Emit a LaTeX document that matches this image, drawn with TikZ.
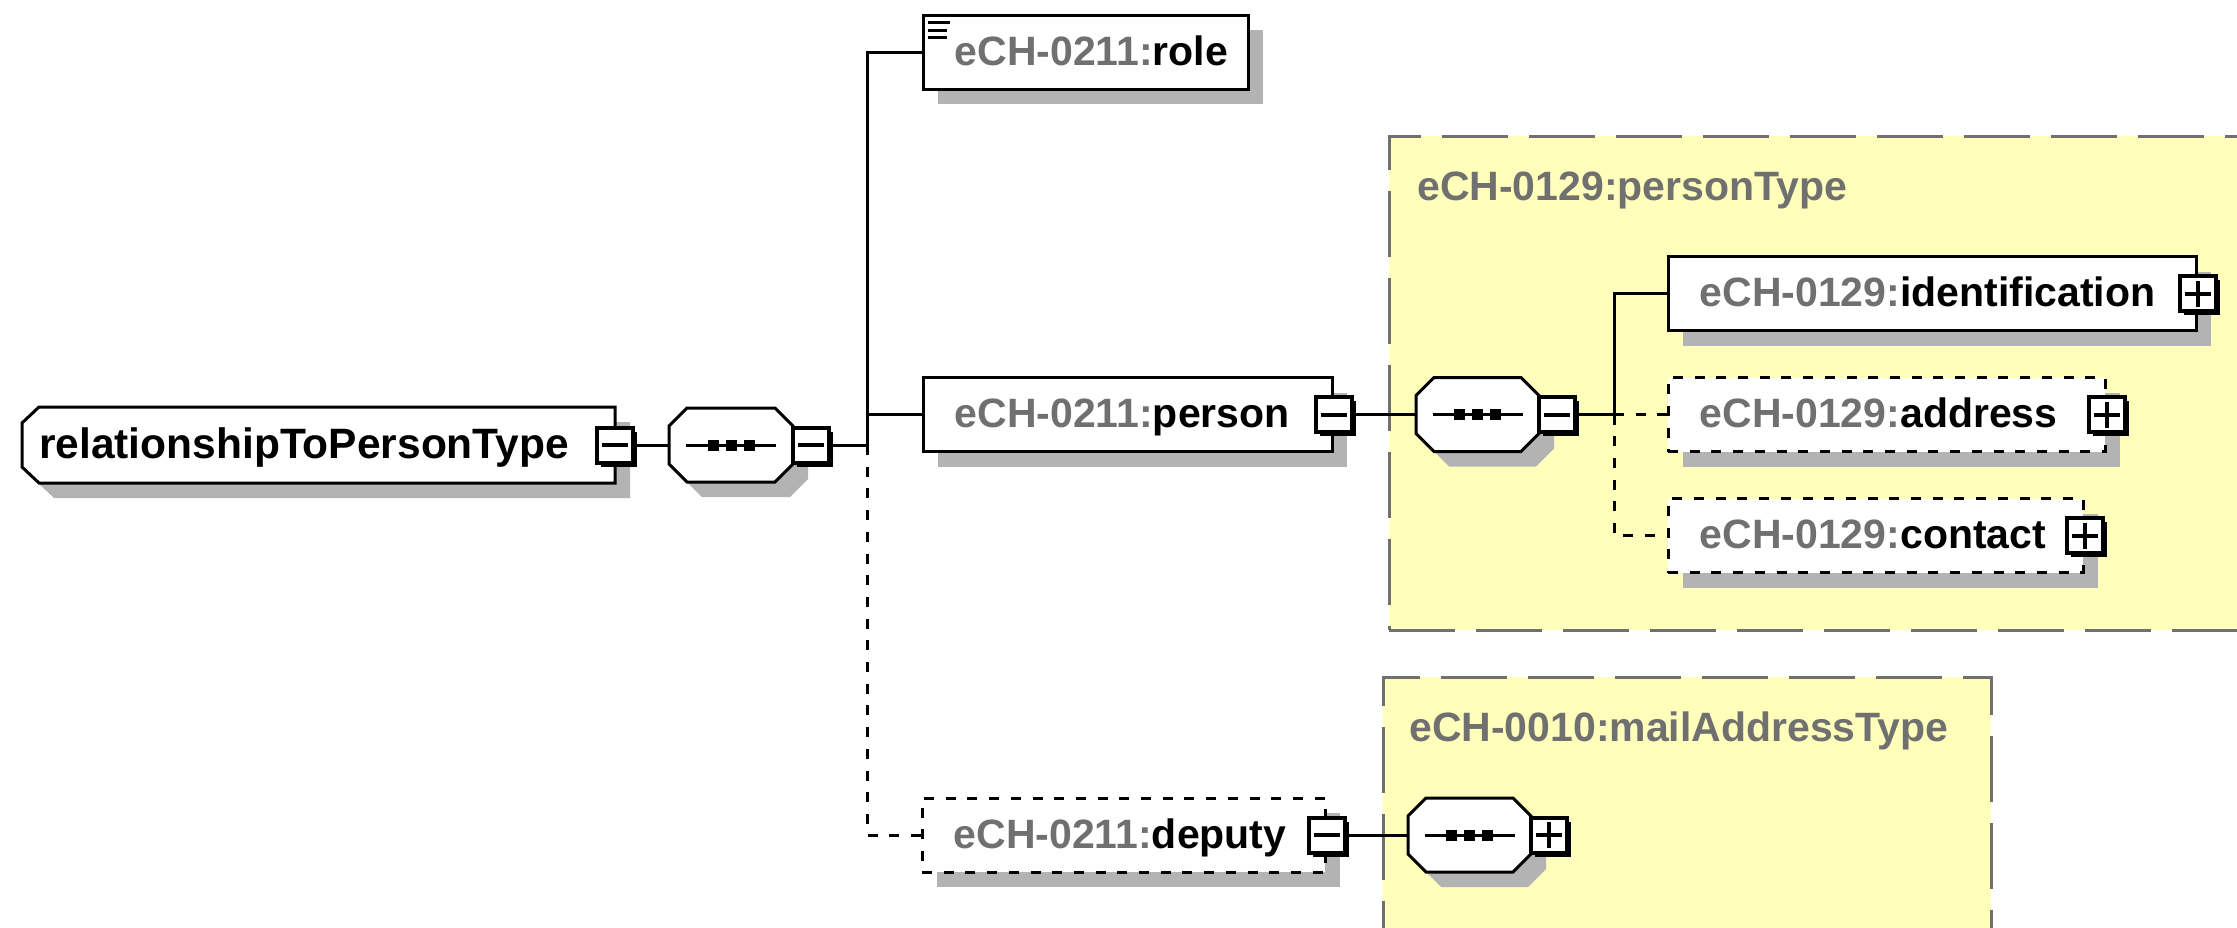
\documentclass[tikz,border=0pt]{standalone}
\usepackage{fontspec}
\setmainfont{Liberation Sans}
\usetikzlibrary{positioning,shadows}

\definecolor{typefill}{RGB}{255,255,187}
\definecolor{typeline}{RGB}{112,112,112}
\definecolor{shadowgray}{RGB}{179,179,179}
\definecolor{prefixgray}{RGB}{112,112,112}

\newcommand\elemfont{\fontsize{41}{49}\selectfont\bfseries}
\newcommand\rootfont{\fontsize{42.5}{50}\selectfont\bfseries}
\newcommand\pfx[1]{\textcolor{prefixgray}{#1}}

\begin{document}
\begin{tikzpicture}
        [x=1pt,y=-1pt,every node/.style={inner sep=0pt},
         shade/.style={drop shadow={shadow xshift=15pt,shadow yshift=-15pt,fill=shadowgray,opacity=1}},
         elem/.style={rectangle,draw,fill=white,line width=3pt,minimum height=74pt,shade},
         optional/.style={dash pattern=on 10pt off 11.7pt},
         spot/.style={rectangle,minimum height=74pt,outer sep=0pt},
         outline/.style={fill=white,line width=3pt,shade},
         btn/.style={rectangle,draw,fill=white,line width=4pt,minimum width=36pt,
           minimum height=35pt,outer sep=0pt,
           drop shadow={shadow xshift=4pt,shadow yshift=-4pt,fill=black,opacity=1}},
         minus/.style={btn,path picture={
             \draw[line width=4pt] ([xshift=-13pt]path picture bounding box.center)
               -- ([xshift=13pt]path picture bounding box.center);}},
         plus/.style={btn,path picture={
             \draw[line width=4pt] ([xshift=-13pt]path picture bounding box.center)
               -- ([xshift=13pt]path picture bounding box.center);
             \draw[line width=4pt] ([yshift=-13pt]path picture bounding box.center)
               -- ([yshift=13pt]path picture bounding box.center);}},
         etext/.style={anchor=base west,font=\elemfont},
         tlabel/.style={anchor=base west,font=\elemfont,text=prefixgray},
         typebox/.style={rectangle,draw=typeline,fill=typefill,line width=3pt,
           dash pattern=on 66pt off 21pt,anchor=north west,outer sep=0pt},
         conn/.style={line width=3pt}]
        \useasboundingbox (0,0) rectangle (2237,927);
        \clip (0,0) rectangle (2237,927);

        % type containers
        \node[typebox,minimum width=900pt,minimum height=494pt] (persontype) at (1389,136) {};
        \node[tlabel] (persontypelbl) at ([shift={(28,64)}]persontype.north west) {eCH-0129:personType};
        \node[typebox,minimum width=608pt,minimum height=300pt] (mailtype) at (1383,677) {};
        \node[tlabel] (mailtypelbl) at ([shift={(26,64)}]mailtype.north west) {eCH-0010:mailAddressType};

        % root element
        \node[spot,minimum width=593pt,minimum height=76pt] (root) at (318.5,445) {};
        \filldraw[outline] ([xshift=17pt]root.north west) -- (root.north east) -- (root.south east)
            -- ([xshift=17pt]root.south west) -- ([yshift=16pt]root.south west)
            -- ([yshift=-16pt]root.north west) -- cycle;
        \node[etext,font=\rootfont] (roottxt) at (39,458) {relationshipToPersonType};
        \node[minus] (rootbtn) at (root.east) {};

        % sequence compositors
        \node[spot,minimum width=124pt] (seqa) at (731,445) {};
        \node[spot,minimum width=123pt] (seqb) at (1477.5,414.5) {};
        \node[spot,minimum width=123pt] (seqc) at (1469.5,835) {};
        \foreach \s in {seqa,seqb,seqc} {
            \filldraw[outline] ([xshift=18pt]\s.north west) -- ([xshift=-18pt]\s.north east)
                -- ([yshift=-18pt]\s.north east) -- ([yshift=18pt]\s.south east)
                -- ([xshift=-18pt]\s.south east) -- ([xshift=18pt]\s.south west)
                -- ([yshift=18pt]\s.south west) -- ([yshift=-18pt]\s.north west) -- cycle;
            \draw[line width=3pt] ([xshift=-45pt]\s.center) -- ([xshift=45pt]\s.center);
            \foreach \dx in {-18,0,18}
                \fill ([xshift=\dx pt]\s.center) +(-5.5,-5.5) rectangle +(5.5,5.5);
        }
        \node[minus,right=0pt of seqa] (seqabtn) {};
        \node[minus,right=0pt of seqb] (seqbbtn) {};
        \node[plus,right=0pt of seqc] (seqcbtn) {};

        % children of the first sequence
        \node[elem,minimum width=325pt] (role) at (1085.5,52) {};
        \node[etext] (roletxt) at ([xshift=33pt,yshift=-13pt]role.west) {\pfx{eCH-0211:}role};
        \foreach \dy/\len in {9/22,17/19,24/19}
            \draw[line width=3pt] ([shift={(6,\dy)}]role.north west) -- +(\len,0);
        \node[elem,minimum width=409pt] (person) at (1127.5,414.5) {};
        \node[etext] (persontxt) at ([xshift=33pt,yshift=-13pt]person.west) {\pfx{eCH-0211:}person};
        \node[minus] (personbtn) at (person.east) {};
        \node[elem,optional,minimum width=403pt] (deputy) at (1123.5,835) {};
        \node[etext] (deputytxt) at ([xshift=33pt,yshift=-13pt]deputy.west) {\pfx{eCH-0211:}deputy};
        \node[minus] (deputybtn) at (deputy.east) {};

        % personType content
        \node[elem,minimum width=528pt] (ident) at (1932,293.5) {};
        \node[etext] (identtxt) at ([xshift=33pt,yshift=-13pt]ident.west) {\pfx{eCH-0129:}identification};
        \node[plus] (identbtn) at (ident.east) {};
        \node[elem,optional,minimum width=437pt] (addr) at (1886.5,414.5) {};
        \node[etext] (addrtxt) at ([xshift=33pt,yshift=-13pt]addr.west) {\pfx{eCH-0129:}address};
        \node[plus] (addrbtn) at (addr.east) {};
        \node[elem,optional,minimum width=415pt] (contact) at (1875.5,535.5) {};
        \node[etext] (contacttxt) at ([xshift=33pt,yshift=-13pt]contact.west) {\pfx{eCH-0129:}contact};
        \node[plus] (contactbtn) at (contact.east) {};

        % connectors
        \coordinate (trunka) at (867,445);
        \coordinate (trunkb) at (1614,414.5);
        \foreach \from/\to in {rootbtn/seqa, personbtn/seqb, deputybtn/seqc}
            \draw[conn] (\from.east) -- (\to.west);
        \draw[conn] (seqabtn.east) -- (trunka) |- (role.west);
        \draw[conn] (trunka) |- (person.west);
        \draw[conn,optional] (trunka) |- (deputy.west);
        \draw[conn] (seqbbtn.east) -- (trunkb) |- (ident.west);
        \foreach \to in {addr, contact}
            \draw[conn,optional] (trunkb) |- (\to.west);

      \end{tikzpicture}
\end{document}
